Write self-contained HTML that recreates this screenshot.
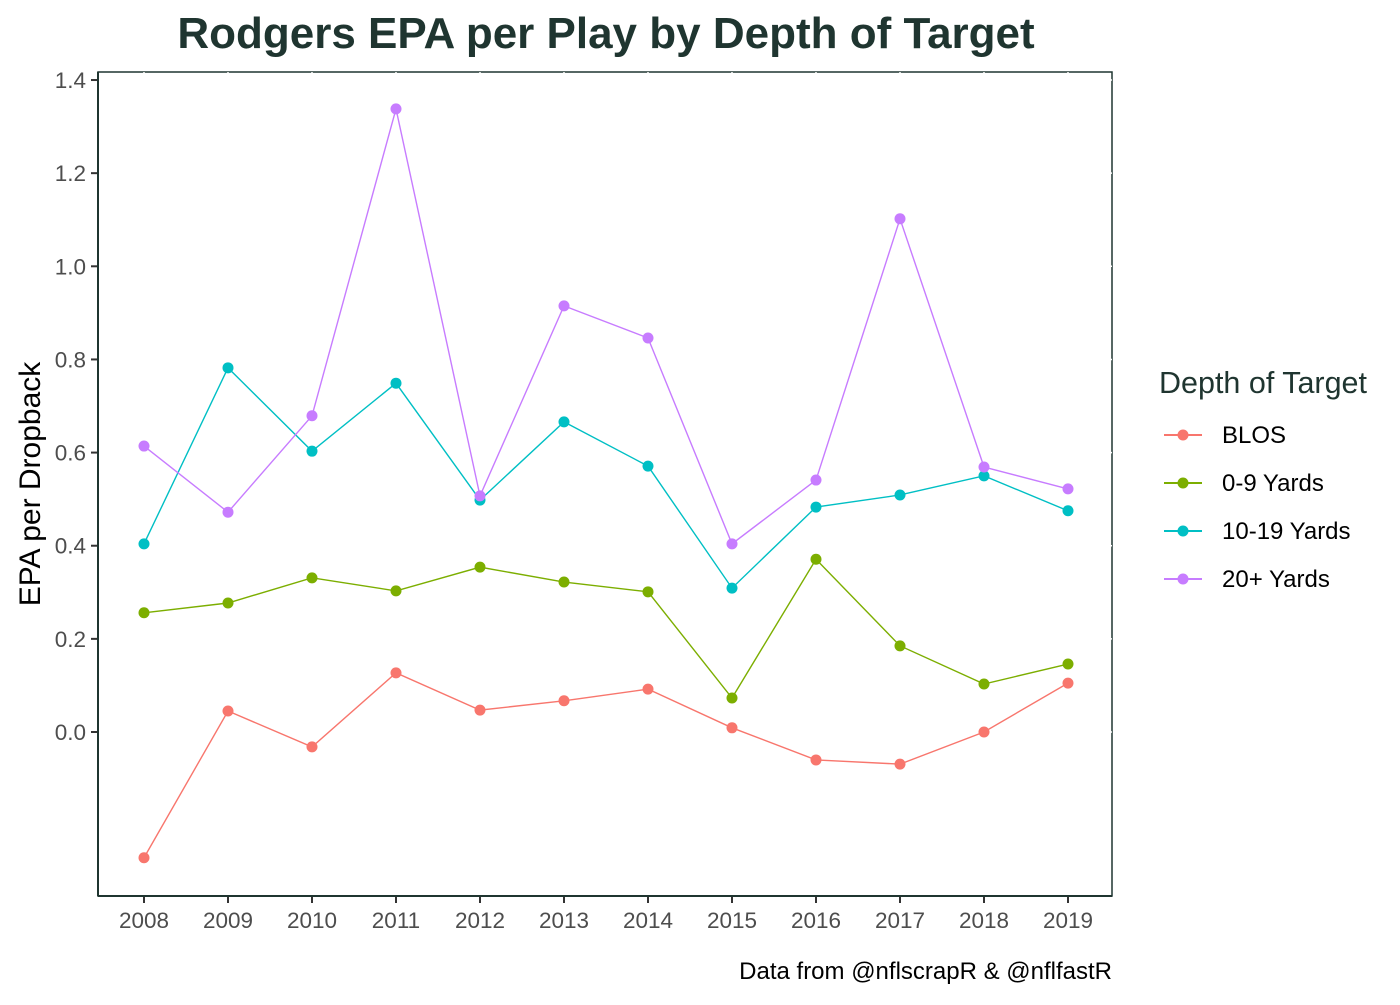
<!DOCTYPE html>
<html><head><meta charset="utf-8"><style>
body{margin:0;background:#fff;}
svg text{font-family:"Liberation Sans",Arial,sans-serif;}
</style></head><body>
<svg id="chart" width="1400" height="1000" xmlns="http://www.w3.org/2000/svg">
<text x="606" y="48" text-anchor="middle" font-size="44" font-weight="bold" fill="#1f3530">Rodgers EPA per Play by Depth of Target</text>
<rect x="98" y="72" width="1014" height="824" fill="none" stroke="#1f3530" stroke-width="1.5"/>
<g id="grid"></g>
<g id="yaxis"></g>
<g id="xaxis"></g>
<g id="series"></g>
<text transform="translate(40,484) rotate(-90)" text-anchor="middle" font-size="30" fill="#000">EPA per Dropback</text>
<text x="1112" y="979" text-anchor="end" font-size="24" fill="#000">Data from @nflscrapR &amp; @nflfastR</text>
<g id="legend">
<text x="1159" y="393" font-size="30.5" fill="#1f3530">Depth of Target</text>
</g>
</svg>
<script>
const years=[2008,2009,2010,2011,2012,2013,2014,2015,2016,2017,2018,2019];
const seriesNames=["BLOS","0-9 Yards","10-19 Yards","20+ Yards"];
const seriesColors=["#f8766d","#7cae00","#00bfc4","#c77cff"];
const blos=[-0.27,0.045,-0.032,0.127,0.047,0.067,0.092,0.009,-0.06,-0.069,0.0,0.105];
const short=[0.256,0.277,0.331,0.303,0.354,0.322,0.301,0.073,0.371,0.185,0.103,0.146];
const mid=[0.404,0.782,0.603,0.749,0.498,0.666,0.571,0.309,0.483,0.509,0.55,0.475];
const deep=[0.614,0.472,0.679,1.338,0.507,0.915,0.846,0.404,0.541,1.102,0.569,0.522];
const yTicks=[0,0.2,0.4,0.6,0.8,1.0,1.2,1.4];
const yTickLabels=["0.0","0.2","0.4","0.6","0.8","1.0","1.2","1.4"];
const NS="http://www.w3.org/2000/svg";
const x=yr=>144+(yr-2008)*84;
const y=v=>732-v*465.7;
function mk(tag,attrs,parent){const e=document.createElementNS(NS,tag);for(const k in attrs)e.setAttribute(k,attrs[k]);parent.appendChild(e);return e;}
const grid=document.getElementById('grid'),ya=document.getElementById('yaxis'),xa=document.getElementById('xaxis'),sg=document.getElementById('series'),lg=document.getElementById('legend');
yTicks.forEach((t,i)=>{
  const g=mk('line',{x1:98,x2:1112,y1:y(t),y2:y(t),stroke:'#fff','stroke-width':1.5},grid);
  
  
  const tk=mk('line',{x1:91,x2:98,y1:y(t),y2:y(t),stroke:'#333','stroke-width':2},ya);
  
  
  const tx=mk('text',{x:86,y:y(t)+8,'text-anchor':'end','font-size':22.5,fill:'#4d4d4d'},ya);
  tx.textContent=yTickLabels[i];
  
  
});
years.forEach(yr=>{
  const g=mk('line',{x1:x(yr),x2:x(yr),y1:72,y2:896,stroke:'#fff','stroke-width':1.5},grid);
  
  
  const tk=mk('line',{x1:x(yr),x2:x(yr),y1:896,y2:903,stroke:'#333','stroke-width':2},xa);
  
  
  const tx=mk('text',{x:x(yr),y:928,'text-anchor':'middle','font-size':22.5,fill:'#4d4d4d'},xa);
  tx.textContent=yr;
  
  
});
mk('line',{x1:98,x2:98,y1:72,y2:896,stroke:'#1f3530','stroke-width':2},ya);
mk('line',{x1:98,x2:1112,y1:896,y2:896,stroke:'#1f3530','stroke-width':2},xa);
[blos,short,mid,deep].forEach((vals,si)=>{
  const c=seriesColors[si];
  const p=mk('polyline',{points:vals.map((v,i)=>x(years[i])+','+y(v)).join(' '),fill:'none',stroke:c,'stroke-width':1.4},sg);
  
  
  vals.forEach((v,i)=>{
    const d=mk('circle',{cx:x(years[i]),cy:y(v),r:5.5,fill:c},sg);
    
    
  });
  const ly=435+si*48;
  const ll=mk('line',{x1:1164,x2:1202,y1:ly,y2:ly,stroke:c,'stroke-width':2},lg);
  
  
  const lc=mk('circle',{cx:1183,cy:ly,r:5.5,fill:c},lg);
  
  
  const lt=mk('text',{x:1222,y:ly+8,'font-size':24,fill:'#000'},lg);
  lt.textContent=seriesNames[si];
  
  
});
</script>
</body></html>
